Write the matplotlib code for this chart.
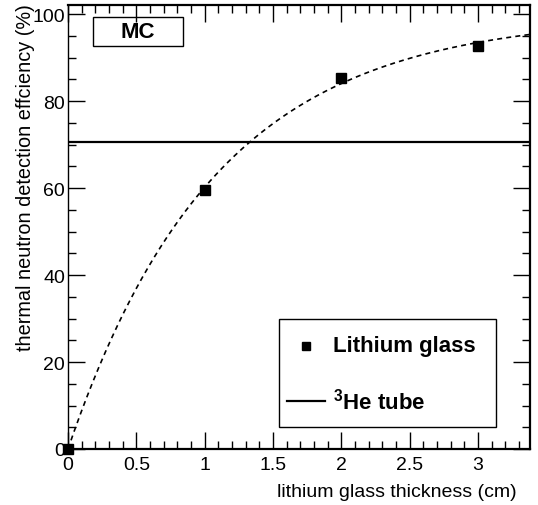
import numpy as np
import matplotlib
matplotlib.use('Agg')
import matplotlib.pyplot as plt
from matplotlib.patches import Rectangle
from matplotlib.ticker import MultipleLocator

plt.rcParams['font.family'] = ['Liberation Sans', 'DejaVu Sans']
plt.rcParams['mathtext.fontset'] = 'custom'
plt.rcParams['mathtext.rm'] = 'Liberation Sans'
plt.rcParams['mathtext.bf'] = 'Liberation Sans:bold'

# dados
espessura = [0, 1, 2, 3]            # cm
eficiencia = [0, 59.5, 85.3, 92.8]  # %
eficiencia_he3 = 70.6               # %
rotulo_li = 'Lithium glass'
rotulo_he = r'$^{\mathbf{3}}$He tube'

# ajuste a*(1-exp(-x/b)) feito nos pontos (busca em grade)
x_dados = np.array(espessura, dtype=float)
y_dados = np.array(eficiencia)
melhor = None
for a in np.linspace(90, 110, 201):
    for b in np.linspace(0.8, 1.5, 141):
        res = np.sum((a * (1 - np.exp(-x_dados / b)) - y_dados) ** 2)
        if melhor is None or res < melhor[0]:
            melhor = (res, a, b)
_, a_fit, b_fit = melhor

fig = plt.figure(figsize=(5.38, 5.06), dpi=100)
ax = fig.add_axes([0.1264, 0.1107, 0.985 - 0.1264, 0.988 - 0.1107])

x_curva = np.linspace(0, 3.38, 300)
ax.plot(x_curva, a_fit * (1 - np.exp(-x_curva / b_fit)), color='black', lw=1.2,
        linestyle=(0, (3, 2.5)))
ax.plot([0, 3.38], [eficiencia_he3, eficiencia_he3], color='black', lw=1.6)
ax.plot(espessura, eficiencia, 's', color='black', markersize=7.8,
        clip_on=False, zorder=5)

ax.set_xlim(0, 3.38)
ax.set_ylim(0, 102.1)
ax.xaxis.set_major_locator(MultipleLocator(0.5))
ax.xaxis.set_minor_locator(MultipleLocator(0.1))
ax.yaxis.set_major_locator(MultipleLocator(20))
ax.yaxis.set_minor_locator(MultipleLocator(5))
ax.set_xticks([0, 0.5, 1, 1.5, 2, 2.5, 3])
ax.set_xticklabels(['0', '0.5', '1', '1.5', '2', '2.5', '3'])
ax.tick_params(which='both', direction='in', top=True, right=True, labelsize=14,
               width=1, pad=2)
ax.tick_params(axis='x', which='major', pad=5)
ax.tick_params(which='major', length=12)
ax.tick_params(which='minor', length=6)
for lado in ['top', 'bottom', 'right']:
    ax.spines[lado].set_linewidth(1.6)
ax.spines['left'].set_linewidth(1.0)

ax.set_xlabel('lithium glass thickness (cm)', fontsize=14, ha='right', x=0.972,
              labelpad=7)
ax.set_ylabel('thermal neutron detection effciency (%)', fontsize=14.3, ha='right',
              y=1.005, labelpad=-2)

# legenda desenhada a mao (estilo ROOT)
ax.add_patch(Rectangle((0.457, 0.05), 0.469, 0.243, transform=ax.transAxes,
                       facecolor='white', edgecolor='black', lw=1.0, zorder=6))
ax.plot([0.515], [0.233], 's', color='black', markersize=5.5,
        transform=ax.transAxes, zorder=7)
ax.plot([0.474, 0.556], [0.109, 0.109], color='black', lw=1.6,
        transform=ax.transAxes, zorder=7)
ax.text(0.574, 0.233, rotulo_li, transform=ax.transAxes, va='center',
        fontsize=16, fontweight='bold', zorder=7)
ax.text(0.574, 0.109, rotulo_he, transform=ax.transAxes, va='center',
        fontsize=16, fontweight='bold', zorder=7)

ax.add_patch(Rectangle((0.054, 0.908), 0.195, 0.065, transform=ax.transAxes,
                       fill=False, edgecolor='black', lw=1.0))
ax.text(0.1515, 0.9405, 'MC', transform=ax.transAxes, ha='center', va='center',
        fontsize=16, fontweight='bold')

fig.savefig('out.png', dpi=100)
